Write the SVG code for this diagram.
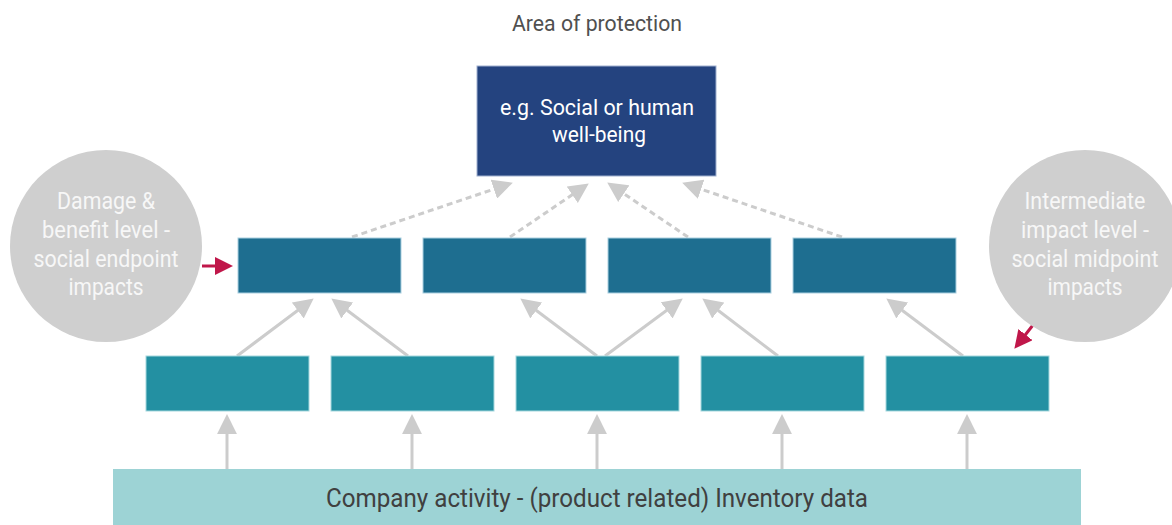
<svg xmlns="http://www.w3.org/2000/svg" width="1172" height="525" viewBox="0 0 1172 525">
<style>
text{font-family:Roboto,"Liberation Sans",sans-serif;text-anchor:middle}
.title{font-size:22px;fill:#505050}
.top{fill:#24437f;stroke:#9fb0cf;stroke-width:1}
.l2{fill:#1e6e90;stroke:#a9cfe0;stroke-width:1}
.l3{fill:#2390a2;stroke:#a6d8de;stroke-width:1}
.base{fill:#9dd3d5}
.circ{fill:#cfcfcf}
.wt{font-size:22px;fill:#ffffff}
.ct{font-size:23px;fill:#f7f7f7}
.bt{font-size:26px;fill:#404040}
.solid{stroke:#cccccc;stroke-width:3;fill:none;marker-end:url(#ag)}
.dash{stroke:#cccccc;stroke-width:3;fill:none;stroke-dasharray:6 4;marker-end:url(#ag)}
.red{stroke:#c0174a;stroke-width:3;fill:none;marker-end:url(#ar)}
</style>
<defs>
<marker id="ag" markerUnits="userSpaceOnUse" markerWidth="20" markerHeight="20" viewBox="0 0 18 18" refX="10" refY="9" orient="auto">
<path d="M0,0 L18,9 L0,18 z" fill="#cccccc"/>
</marker>
<marker id="ar" markerUnits="userSpaceOnUse" markerWidth="18" markerHeight="18" viewBox="0 0 16 16" refX="8" refY="8" orient="auto">
<path d="M0,0 L16,8 L0,16 z" fill="#c0174a"/>
</marker>
</defs>

<text class="title" x="597" y="31" textLength="170" lengthAdjust="spacingAndGlyphs">Area of protection</text>

<g id="connectors">
<line class="dash" x1="352" y1="237" x2="504.4" y2="185.6"/>
<line class="dash" x1="510" y1="237" x2="581.4" y2="188.5"/>
<line class="dash" x1="688" y1="237" x2="614.6" y2="187.5"/>
<line class="dash" x1="842" y1="237" x2="690.6" y2="185.6"/>
<line class="solid" x1="237" y1="356" x2="306.6" y2="303.8"/>
<line class="solid" x1="408" y1="356" x2="338.4" y2="303.8"/>
<line class="solid" x1="597" y1="356" x2="527.4" y2="303.8"/>
<line class="solid" x1="605" y1="356" x2="675.6" y2="303.8"/>
<line class="solid" x1="778" y1="356" x2="709.4" y2="303.8"/>
<line class="solid" x1="963" y1="356" x2="893.4" y2="303.8"/>
<line class="solid" x1="227" y1="469" x2="227" y2="423"/>
<line class="solid" x1="412" y1="469" x2="412" y2="423"/>
<line class="solid" x1="597" y1="469" x2="597" y2="423"/>
<line class="solid" x1="782" y1="469" x2="782" y2="423"/>
<line class="solid" x1="967" y1="469" x2="967" y2="423"/>
<line class="red" x1="202" y1="266" x2="224" y2="266"/>
<line class="red" x1="1033" y1="325" x2="1019.9" y2="341.7"/>
</g>

<g id="area">
<rect class="top" x="477" y="66" width="239" height="110"/>
<text class="wt" x="597" y="115" textLength="194" lengthAdjust="spacingAndGlyphs">e.g. Social or human</text>
<text class="wt" x="599" y="142" textLength="94" lengthAdjust="spacingAndGlyphs">well-being</text>
</g>

<g id="endpoint-circle">
<circle class="circ" cx="106" cy="246" r="96"/>
<text class="ct" x="106" y="209" textLength="98" lengthAdjust="spacingAndGlyphs">Damage &amp;</text>
<text class="ct" x="106" y="238" textLength="128" lengthAdjust="spacingAndGlyphs">benefit level -</text>
<text class="ct" x="106" y="267" textLength="145" lengthAdjust="spacingAndGlyphs">social endpoint</text>
<text class="ct" x="106" y="295" textLength="75" lengthAdjust="spacingAndGlyphs">impacts</text>
</g>

<g id="midpoint-circle">
<circle class="circ" cx="1085" cy="246" r="96"/>
<text class="ct" x="1085" y="209" textLength="121" lengthAdjust="spacingAndGlyphs">Intermediate</text>
<text class="ct" x="1085" y="238" textLength="128" lengthAdjust="spacingAndGlyphs">impact level -</text>
<text class="ct" x="1085" y="267" textLength="147" lengthAdjust="spacingAndGlyphs">social midpoint</text>
<text class="ct" x="1085" y="295" textLength="75" lengthAdjust="spacingAndGlyphs">impacts</text>
</g>

<g id="endpoint-1"><rect class="l2" x="238" y="238" width="163" height="55"/></g>
<g id="endpoint-2"><rect class="l2" x="423" y="238" width="163" height="55"/></g>
<g id="endpoint-3"><rect class="l2" x="608" y="238" width="163" height="55"/></g>
<g id="endpoint-4"><rect class="l2" x="793" y="238" width="163" height="55"/></g>

<g id="midpoint-1"><rect class="l3" x="146" y="356" width="163" height="55"/></g>
<g id="midpoint-2"><rect class="l3" x="331" y="356" width="163" height="55"/></g>
<g id="midpoint-3"><rect class="l3" x="516" y="356" width="163" height="55"/></g>
<g id="midpoint-4"><rect class="l3" x="701" y="356" width="163" height="55"/></g>
<g id="midpoint-5"><rect class="l3" x="886" y="356" width="163" height="55"/></g>

<g id="inventory">
<rect class="base" x="113" y="469" width="968" height="56"/>
<text class="bt" x="597" y="507" textLength="542" lengthAdjust="spacingAndGlyphs">Company activity - (product related) Inventory data</text>
</g>
</svg>
